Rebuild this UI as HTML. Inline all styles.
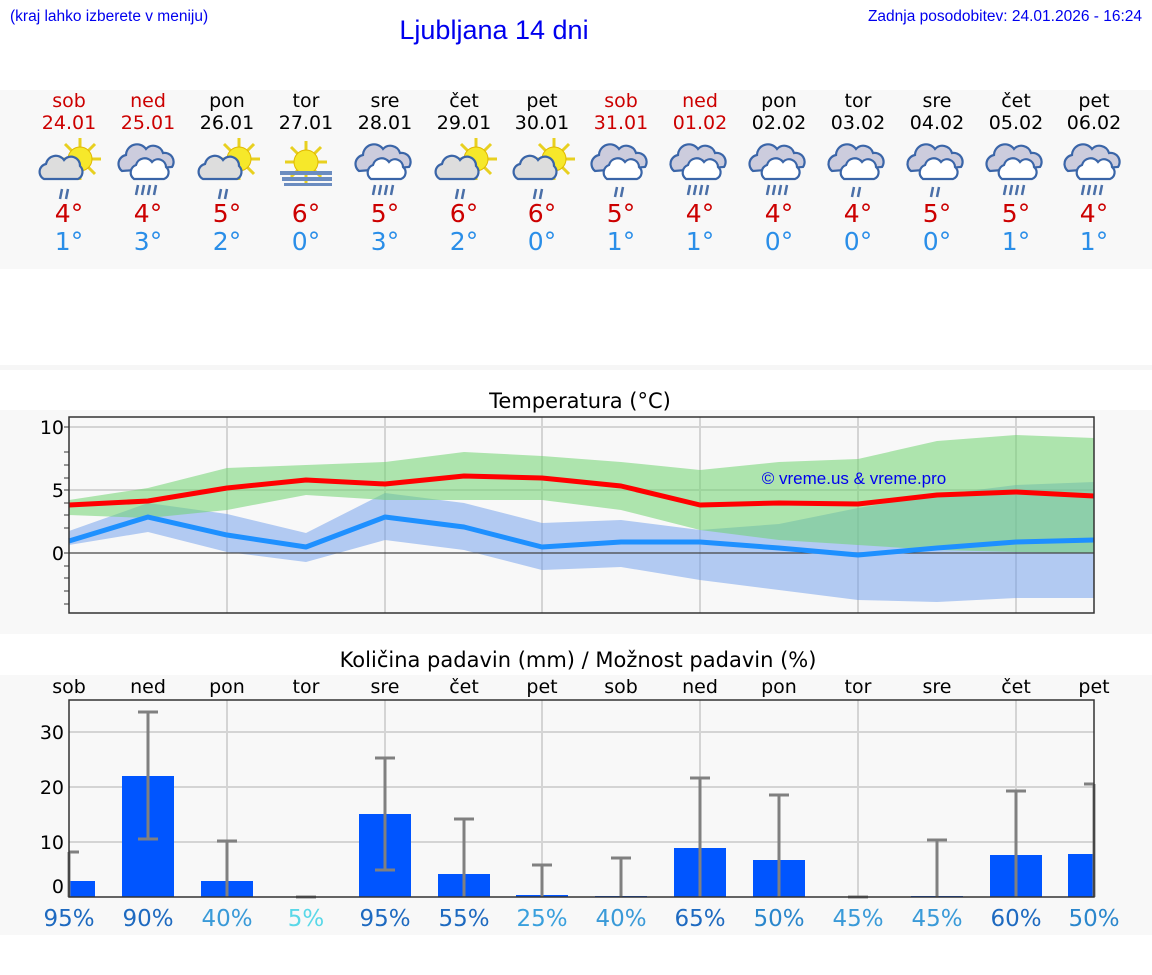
<!DOCTYPE html>
<html><head><meta charset="utf-8"><style>
html,body{margin:0;padding:0;background:#fff;}
svg{display:block;font-family:"DejaVu Sans","Liberation Sans",sans-serif;}
</style></head><body>
<svg width="1152" height="975" viewBox="0 0 1152 975" xmlns="http://www.w3.org/2000/svg">
<defs>
<g id="sun"><g stroke="#e8d020" stroke-width="3"><line x1="0" y1="-21" x2="0" y2="21"/><line x1="-21" y1="0" x2="21" y2="0"/><line x1="-15" y1="-15" x2="15" y2="15"/><line x1="-15" y1="15" x2="15" y2="-15"/></g><circle r="12" fill="#f6e82a" stroke="#e0b800" stroke-width="1"/></g>
<g id="cl"><path d="M-20,8 a8,8 0 0 1 2,-15 a10,10 0 0 1 18,-4 a9,9 0 0 1 16,6 a8,8 0 0 1 -2,13 z" fill="#ddd" stroke="#3a65a8" stroke-width="2.2"/></g>
<g id="cl2"><path d="M-26,6 a9,9 0 0 1 4,-16 a11,11 0 0 1 20,-6 a10,10 0 0 1 17,4 a9,9 0 0 1 9,14 z" fill="#ccd" stroke="#3a65a8" stroke-width="2.2"/><path d="M-14,14 a8,8 0 0 1 2,-14 a9,9 0 0 1 16,-3 a8,8 0 0 1 14,5 a7,7 0 0 1 -2,12 z" fill="#fff" stroke="#3a65a8" stroke-width="2.2"/></g>
<g id="r2" stroke="#4a6fa8" stroke-width="2.5"><line x1="-6" y1="18" x2="-8" y2="28"/><line x1="0" y1="18" x2="-2" y2="28"/></g>
<g id="r4" stroke="#4a6fa8" stroke-width="2.5"><line x1="-10" y1="16" x2="-12" y2="26"/><line x1="-4" y1="16" x2="-6" y2="26"/><line x1="2" y1="16" x2="0" y2="26"/><line x1="8" y1="16" x2="6" y2="26"/></g>
<g id="i_scr"><use href="#sun" x="12" y="-8"/><use href="#cl" x="-4" y="4"/><use href="#r2" x="0" y="4"/></g>
<g id="i_cr4"><use href="#cl2" x="0" y="-2"/><use href="#r4" x="0" y="2"/></g>
<g id="i_cr2"><use href="#cl2" x="0" y="-2"/><use href="#r2" x="2" y="2"/></g>
<g id="i_fog"><use href="#sun" x="0" y="-5"/><rect x="-26" y="4" width="52" height="4" fill="#6b8cc0"/><rect x="-24" y="10" width="50" height="4" fill="#6b8cc0"/><rect x="-22" y="16" width="48" height="3" fill="#6b8cc0"/></g>
</defs>

<text x="10" y="21" font-size="15.5" fill="#0000ee" font-family="Liberation Sans, sans-serif">(kraj lahko izberete v meniju)</text>
<text x="494" y="39" font-size="27" fill="#0000ee" text-anchor="middle" font-family="Liberation Sans, sans-serif">Ljubljana 14 dni</text>
<text x="1142" y="21" font-size="15.5" fill="#0000ee" text-anchor="end" font-family="Liberation Sans, sans-serif">Zadnja posodobitev: 24.01.2026 - 16:24</text>

<rect x="0" y="90" width="1152" height="179" fill="#f8f8f8"/>
<rect x="0" y="365" width="1152" height="5" fill="#f6f6f6"/>
<rect x="0" y="410" width="1152" height="224" fill="#f8f8f8"/>
<rect x="0" y="675" width="1152" height="260" fill="#f8f8f8"/>

<g font-size="19" text-anchor="middle">
<g fill="#cc0000"><text x="69" y="107">sob</text><text x="69" y="129">24.01</text><text x="148" y="107">ned</text><text x="148" y="129">25.01</text><text x="621" y="107">sob</text><text x="621" y="129">31.01</text><text x="700" y="107">ned</text><text x="700" y="129">01.02</text></g>
<g fill="#000"><text x="227" y="107">pon</text><text x="227" y="129">26.01</text><text x="306" y="107">tor</text><text x="306" y="129">27.01</text><text x="385" y="107">sre</text><text x="385" y="129">28.01</text><text x="464" y="107">čet</text><text x="464" y="129">29.01</text><text x="542" y="107">pet</text><text x="542" y="129">30.01</text><text x="779" y="107">pon</text><text x="779" y="129">02.02</text><text x="858" y="107">tor</text><text x="858" y="129">03.02</text><text x="937" y="107">sre</text><text x="937" y="129">04.02</text><text x="1016" y="107">čet</text><text x="1016" y="129">05.02</text><text x="1094" y="107">pet</text><text x="1094" y="129">06.02</text></g>
</g>
<g transform="translate(0,167)">
<use href="#i_scr" x="68"/><use href="#i_cr4" x="148"/><use href="#i_scr" x="227"/><use href="#i_fog" x="306"/><use href="#i_cr4" x="385"/><use href="#i_scr" x="464"/><use href="#i_scr" x="542"/><use href="#i_cr2" x="621"/><use href="#i_cr4" x="700"/><use href="#i_cr4" x="779"/><use href="#i_cr2" x="858"/><use href="#i_cr2" x="937"/><use href="#i_cr4" x="1016"/><use href="#i_cr4" x="1094"/>
</g>
<g font-size="25" text-anchor="middle" fill="#cc0000">
<text x="69" y="222">4°</text><text x="148" y="222">4°</text><text x="227" y="222">5°</text><text x="306" y="222">6°</text><text x="385" y="222">5°</text><text x="464" y="222">6°</text><text x="542" y="222">6°</text><text x="621" y="222">5°</text><text x="700" y="222">4°</text><text x="779" y="222">4°</text><text x="858" y="222">4°</text><text x="937" y="222">5°</text><text x="1016" y="222">5°</text><text x="1094" y="222">4°</text>
</g>
<g font-size="25" text-anchor="middle" fill="#2a8ee8">
<text x="69" y="250">1°</text><text x="148" y="250">3°</text><text x="227" y="250">2°</text><text x="306" y="250">0°</text><text x="385" y="250">3°</text><text x="464" y="250">2°</text><text x="542" y="250">0°</text><text x="621" y="250">1°</text><text x="700" y="250">1°</text><text x="779" y="250">0°</text><text x="858" y="250">0°</text><text x="937" y="250">0°</text><text x="1016" y="250">1°</text><text x="1094" y="250">1°</text>
</g>

<!-- Temperature chart -->
<text x="580" y="408" font-size="21" text-anchor="middle" fill="#000">Temperatura (°C)</text>
<g stroke="#d4d4d4" stroke-width="2"><line x1="69" y1="427" x2="1094" y2="427"/><line x1="69" y1="490" x2="1094" y2="490"/>
<line x1="227" y1="417" x2="227" y2="613"/><line x1="385" y1="417" x2="385" y2="613"/><line x1="542" y1="417" x2="542" y2="613"/><line x1="700" y1="417" x2="700" y2="613"/><line x1="858" y1="417" x2="858" y2="613"/><line x1="1016" y1="417" x2="1016" y2="613"/></g>
<polygon fill="#6c9cec" fill-opacity="0.5" points="69,531 148,503 227,514 306,533 385,493 464,503 542,523 621,520 700,530 779,524 858,508 937,495 1016,485 1094,482 1094,598 1016,598 937,602 858,600 779,590 700,580 621,567 542,570 464,550 385,540 306,562 227,552 148,532 69,545"/>
<polygon fill="#6fd36f" fill-opacity="0.55" points="69,500 148,488 227,468 306,465 385,462 464,452 542,456 621,462 700,470 779,462 858,459 937,441 1016,435 1094,438 1094,553 1016,552 937,550 858,545 779,540 700,530 621,510 542,500 464,500 385,500 306,495 227,510 148,518 69,515"/>
<line x1="69" y1="553" x2="1094" y2="553" stroke="#444" stroke-width="1.2"/>
<polyline fill="none" stroke="#ff0000" stroke-width="5" stroke-linejoin="round" points="69,505 148,501 227,488 306,480 385,484 464,476 542,478 621,486 700,505 779,503 858,504 937,495 1016,492 1094,496"/>
<polyline fill="none" stroke="#1e90ff" stroke-width="5" stroke-linejoin="round" points="69,541 148,517 227,535 306,547 385,517 464,527 542,547 621,542 700,542 779,548 858,555 937,548 1016,542 1094,540"/>
<text x="854" y="484" font-size="17" text-anchor="middle" fill="#0000ee" font-family="Liberation Sans, sans-serif">© vreme.us &amp; vreme.pro</text>
<rect x="69" y="417" width="1025" height="196" fill="none" stroke="#333" stroke-width="1.5"/>
<g stroke="#333" stroke-width="1"><line x1="64" y1="427" x2="69" y2="427"/><line x1="64" y1="452" x2="69" y2="452"/><line x1="64" y1="465" x2="69" y2="465"/><line x1="64" y1="478" x2="69" y2="478"/><line x1="64" y1="490" x2="69" y2="490"/><line x1="64" y1="503" x2="69" y2="503"/><line x1="64" y1="515" x2="69" y2="515"/><line x1="64" y1="528" x2="69" y2="528"/><line x1="64" y1="553" x2="69" y2="553"/><line x1="64" y1="566" x2="69" y2="566"/><line x1="64" y1="578" x2="69" y2="578"/><line x1="64" y1="591" x2="69" y2="591"/><line x1="64" y1="604" x2="69" y2="604"/></g>
<g font-size="19" text-anchor="end" fill="#000"><text x="64" y="434">10</text><text x="64" y="497">5</text><text x="64" y="560">0</text></g>

<!-- Precip chart -->
<text x="578" y="667" font-size="21" text-anchor="middle" fill="#000">Količina padavin (mm) / Možnost padavin (%)</text>
<g font-size="19" text-anchor="middle" fill="#000">
<text x="69" y="693">sob</text><text x="148" y="693">ned</text><text x="227" y="693">pon</text><text x="306" y="693">tor</text><text x="385" y="693">sre</text><text x="464" y="693">čet</text><text x="542" y="693">pet</text><text x="621" y="693">sob</text><text x="700" y="693">ned</text><text x="779" y="693">pon</text><text x="858" y="693">tor</text><text x="937" y="693">sre</text><text x="1016" y="693">čet</text><text x="1094" y="693">pet</text>
</g>
<g stroke="#d4d4d4" stroke-width="2"><line x1="69" y1="732" x2="1094" y2="732"/><line x1="69" y1="787" x2="1094" y2="787"/><line x1="69" y1="842" x2="1094" y2="842"/>
<line x1="227" y1="700" x2="227" y2="897"/><line x1="385" y1="700" x2="385" y2="897"/><line x1="542" y1="700" x2="542" y2="897"/><line x1="700" y1="700" x2="700" y2="897"/><line x1="858" y1="700" x2="858" y2="897"/><line x1="1016" y1="700" x2="1016" y2="897"/></g>
<g fill="#0055ff">
<rect x="69" y="881" width="26" height="16"/><rect x="122" y="776" width="52" height="121"/><rect x="201" y="881" width="52" height="16"/><rect x="359" y="814" width="52" height="83"/><rect x="438" y="874" width="52" height="23"/><rect x="516" y="895" width="52" height="2"/><rect x="595" y="896" width="52" height="1"/><rect x="674" y="848" width="52" height="49"/><rect x="753" y="860" width="52" height="37"/><rect x="911" y="896" width="52" height="1"/><rect x="990" y="855" width="52" height="42"/><rect x="1068" y="854" width="26" height="43"/>
</g>
<g stroke="#808080" stroke-width="3">
<line x1="69" y1="852" x2="69" y2="897"/><line x1="69" y1="852" x2="79" y2="852"/>
<line x1="148" y1="712" x2="148" y2="839"/><line x1="138" y1="712" x2="158" y2="712"/><line x1="138" y1="839" x2="158" y2="839"/>
<line x1="227" y1="841" x2="227" y2="897"/><line x1="217" y1="841" x2="237" y2="841"/>
<line x1="296" y1="897" x2="316" y2="897"/>
<line x1="385" y1="758" x2="385" y2="870"/><line x1="375" y1="758" x2="395" y2="758"/><line x1="375" y1="870" x2="395" y2="870"/>
<line x1="464" y1="819" x2="464" y2="897"/><line x1="454" y1="819" x2="474" y2="819"/>
<line x1="542" y1="865" x2="542" y2="897"/><line x1="532" y1="865" x2="552" y2="865"/>
<line x1="621" y1="858" x2="621" y2="897"/><line x1="611" y1="858" x2="631" y2="858"/>
<line x1="700" y1="778" x2="700" y2="897"/><line x1="690" y1="778" x2="710" y2="778"/>
<line x1="779" y1="795" x2="779" y2="897"/><line x1="769" y1="795" x2="789" y2="795"/>
<line x1="848" y1="897" x2="868" y2="897"/>
<line x1="937" y1="840" x2="937" y2="897"/><line x1="927" y1="840" x2="947" y2="840"/>
<line x1="1016" y1="791" x2="1016" y2="897"/><line x1="1006" y1="791" x2="1026" y2="791"/>
<line x1="1094" y1="784" x2="1094" y2="897"/><line x1="1084" y1="784" x2="1094" y2="784"/>
</g>
<rect x="69" y="700" width="1025" height="197" fill="none" stroke="#333" stroke-width="1.5"/>
<g font-size="19" text-anchor="end" fill="#000"><text x="64" y="739">30</text><text x="64" y="794">20</text><text x="64" y="849">10</text><text x="64" y="893">0</text></g>
<g font-size="23" text-anchor="middle">
<text x="69" y="926" fill="#1e6ac0">95%</text><text x="148" y="926" fill="#1e6ac0">90%</text><text x="227" y="926" fill="#3a9ad8">40%</text><text x="306" y="926" fill="#5ad8e8">5%</text><text x="385" y="926" fill="#1e6ac0">95%</text><text x="464" y="926" fill="#1e6ac0">55%</text><text x="542" y="926" fill="#3aa0dd">25%</text><text x="621" y="926" fill="#3a9ad8">40%</text><text x="700" y="926" fill="#1e6ac0">65%</text><text x="779" y="926" fill="#2a86cc">50%</text><text x="858" y="926" fill="#3a9ad8">45%</text><text x="937" y="926" fill="#3a9ad8">45%</text><text x="1016" y="926" fill="#1e6ac0">60%</text><text x="1094" y="926" fill="#2a86cc">50%</text>
</g>
</svg>
</body></html>
